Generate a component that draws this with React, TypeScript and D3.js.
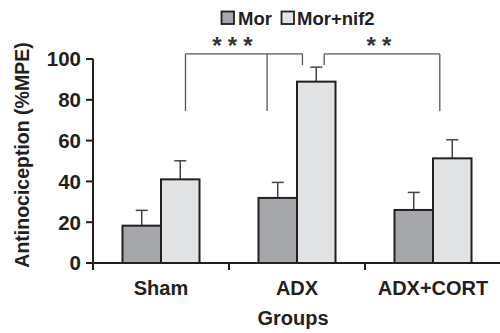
import React from 'react';
import * as d3 from 'd3';

const groups = ['Sham', 'ADX', 'ADX+CORT'];
const series = ['Mor', 'Mor+nif2'];
const means = [
  [18.3, 41.0],
  [31.9, 88.9],
  [26.0, 51.3],
];
const errors = [
  [7.5, 9.1],
  [7.6, 7.1],
  [8.6, 9.1],
];
const yTicks = [0, 20, 40, 60, 80, 100];
const colors = ['#a6a7aa', '#e2e3e5'];

// significance brackets: anchors as [group, fraction of band, drop end value]
const brackets = [
  { stars: 3, top: 102.5, anchors: [['Sham', 0.68, 74.5], ['ADX', 0.28, 74.5], ['ADX', 0.54, 97]] },
  { stars: 2, top: 102.5, anchors: [['ADX', 0.70, 97], ['ADX+CORT', 0.55, 74.5]] },
];

const W = 500;
const H = 333;
const margin = { top: 59, right: 0, bottom: 70, left: 93 };
const font = '"Liberation Sans", Arial, Helvetica, sans-serif';
const ink = '#231f20';

export default function App() {
  const x = d3.scaleBand().domain(groups).range([margin.left, 501]).padding(0);
  const xs = d3.scaleBand().domain(series).range([0, x.bandwidth()]).paddingInner(0).paddingOuter(0.766);
  const y = d3.scaleLinear().domain([0, 100]).range([H - margin.bottom, margin.top]);
  const y0 = y(0);
  const capW = 12;
  const starCenters = [232.5, 379];

  return (
    <svg width={W} height={H} style={{ position: 'absolute', left: 0, top: 0, background: '#fff' }}
      fontFamily={font} fontWeight="bold">
      {/* legend */}
      <g>
        <rect x={221.5} y={11.5} width={12.5} height={12.5} fill={colors[0]} stroke={ink} strokeWidth={1.8} />
        <text x={238} y={25} fontSize={18.5} fill={ink}>{series[0]}</text>
        <rect x={281.5} y={11.5} width={12.5} height={12.5} fill={colors[1]} stroke={ink} strokeWidth={1.8} />
        <text x={297} y={25} fontSize={18.5} fill={ink}>{series[1]}</text>
      </g>

      {/* bars */}
      {groups.map((g, gi) => (
        <g key={g} transform={`translate(${x(g)},0)`}>
          {series.map((s, si) => {
            const bx = xs(s)!;
            const cx = bx + xs.bandwidth() / 2;
            const top = y(means[gi][si]);
            const et = y(means[gi][si] + errors[gi][si]);
            return (
              <g key={s}>
                <line x1={cx} x2={cx} y1={top} y2={et} stroke="#444" strokeWidth={1.5} />
                <line x1={cx - capW / 2} x2={cx + capW / 2} y1={et} y2={et} stroke="#444" strokeWidth={1.5} />
                <rect x={bx} y={top} width={xs.bandwidth()} height={y0 - top}
                  fill={colors[si]} stroke={ink} strokeWidth={2} />
              </g>
            );
          })}
        </g>
      ))}

      {/* brackets */}
      {brackets.map((b, i) => {
        const pts = b.anchors.map(([g, f, v]) => [x(g as string)! + (f as number) * x.bandwidth(), y(v as number)]);
        const xMin = d3.min(pts, p => p[0])!;
        const xMax = d3.max(pts, p => p[0])!;
        const yt = y(b.top);
        return (
          <g key={i} stroke="#555" strokeWidth={1.3} fill="none">
            <line x1={xMin} x2={xMax} y1={yt} y2={yt} />
            {pts.map((p, j) => <line key={j} x1={p[0]} x2={p[0]} y1={yt} y2={p[1]} />)}
            {d3.range(b.stars).map(k => (
              <text key={k} x={starCenters[i] + (k - (b.stars - 1) / 2) * 15.5} y={54} textAnchor="middle"
                fontSize={24} fontWeight="bold" fill="#333" stroke="none">*</text>
            ))}
          </g>
        );
      })}

      {/* axes */}
      <g stroke={ink} strokeWidth={2}>
        <line x1={margin.left} x2={margin.left} y1={y(100)} y2={y0 + 7} />
        <line x1={margin.left} x2={W} y1={y0} y2={y0} />
        {x.domain().slice(1).map(g => (
          <line key={g} x1={x(g)} x2={x(g)} y1={y0} y2={y0 + 7} />
        ))}
        {yTicks.map(t => (
          <line key={t} x1={margin.left - 7} x2={margin.left} y1={y(t)} y2={y(t)} />
        ))}
      </g>
      {yTicks.map(t => (
        <text key={t} x={81} y={y(t)} dy="0.36em" textAnchor="end" fontSize={20.5} fill={ink}>{t}</text>
      ))}
      {groups.map(g => (
        <text key={g} x={x(g)! + x.bandwidth() / 2} y={295} textAnchor="middle" fontSize={20} fill={ink}>{g}</text>
      ))}
      <text x={293} y={325} textAnchor="middle" fontSize={20} fill={ink}>Groups</text>
      <text transform={`translate(29,${155}) rotate(-90)`} textAnchor="middle" fontSize={19.5} fill={ink}>
        Antinociception (%MPE)
      </text>
    </svg>
  );
}
